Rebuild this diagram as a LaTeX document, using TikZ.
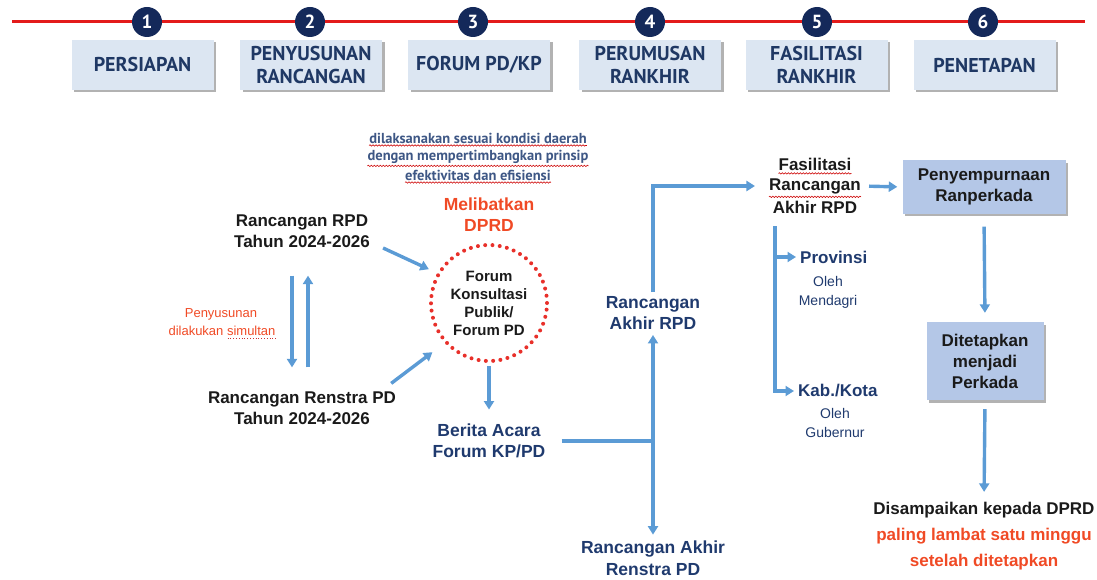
\documentclass[tikz,border=0pt]{standalone}
\usepackage{fontspec}
\setmainfont{Liberation Sans}
\newfontfamily\dinfont{PT Sans}
\usetikzlibrary{arrows.meta,shadows,calc,decorations.pathmorphing}

\definecolor{timeline}{HTML}{E31B1B}
\definecolor{stepnavy}{HTML}{14295A}
\definecolor{hdrfill}{HTML}{DCE6F2}
\definecolor{hdrtext}{HTML}{1F3864}
\definecolor{boxfill}{HTML}{B4C7E7}
\definecolor{flowblue}{HTML}{5B9BD5}
\definecolor{ink}{HTML}{1A1A1A}
\definecolor{navytext}{HTML}{1F3A6E}
\definecolor{accentred}{HTML}{F04A25}
\definecolor{dotred}{HTML}{E8302A}
\definecolor{notetext}{HTML}{3E5785}

\begin{document}
\begin{tikzpicture}[x=1pt,y=-1pt,
  hdrbox/.style={fill=hdrfill, minimum width=142pt, minimum height=50pt,
    inner sep=0pt, align=center, text=hdrtext,
    font=\dinfont\bfseries\fontsize{20}{23}\selectfont,
    drop shadow={shadow xshift=2.5pt, shadow yshift=-2.5pt, fill=black, opacity=0.3}},
  numdot/.style={circle, fill=stepnavy, text=white, minimum size=30pt,
    inner sep=0pt, font=\dinfont\bfseries\fontsize{19}{19}\selectfont},
  flowbox/.style={fill=boxfill, inner sep=0pt, align=center, text=ink,
    font=\bfseries\fontsize{17}{21}\selectfont,
    drop shadow={shadow xshift=2.5pt, shadow yshift=-2.5pt, fill=black, opacity=0.3}},
  plain/.style={inner sep=0pt, align=center, text=ink,
    font=\bfseries\fontsize{17}{21}\selectfont},
  navy/.style={inner sep=0pt, align=center, text=navytext,
    font=\bfseries\fontsize{17.5}{21.5}\selectfont},
  smallnavy/.style={inner sep=0pt, align=center, text=navytext,
    font=\fontsize{14}{19}\selectfont},
  redtext/.style={inner sep=0pt, align=center, text=accentred,
    font=\bfseries\fontsize{17.5}{21}\selectfont},
  note/.style={inner sep=0pt, text=notetext,
    font=\dinfont\bfseries\fontsize{14.5}{18}\selectfont},
  flowline/.style={draw=flowblue, line width=3.4pt},
  arr/.style={flowline, -{Triangle[length=8.5pt,width=10pt]}},
  squiggle/.style={draw=red!80!black, line width=0.6pt,
    decorate, decoration={snake, segment length=3pt, amplitude=0.7pt}}
]
\useasboundingbox (0,0) rectangle (1097,580);

% ---- timeline of stages ----
\coordinate (tl0) at (12,22);
\coordinate (tl1) at (1085,22);
\draw[timeline, line width=3pt] (tl0) -- (tl1);

\node[hdrbox] (h1) at (142.5,65) {PERSIAPAN};
\node[hdrbox] (h2) at (311,65)   {PENYUSUNAN\\RANCANGAN};
\node[hdrbox] (h3) at (479,65)   {FORUM PD/KP};
\node[hdrbox] (h4) at (650,65)   {PERUMUSAN\\RANKHIR};
\node[hdrbox] (h5) at (816.5,65) {FASILITASI\\RANKHIR};
\node[hdrbox] (h6) at (984.5,65) {PENETAPAN};

\node[numdot] (n1) at (147,22) {1};
\node[numdot] (n2) at (310,22) {2};
\node[numdot] (n3) at (473,22) {3};
\node[numdot] (n4) at (650,22) {4};
\node[numdot] (n5) at (817,22) {5};
\node[numdot] (n6) at (983,22) {6};

% ---- note above the forum ----
\node[note] (dil1) at (478,138) {dilaksanakan sesuai kondisi daerah};
\node[note] (dil2) at (478,157) {dengan mempertimbangkan prinsip};
\node[note] (dil3) at (478,175) {efektivitas dan efisiensi};
\foreach \l in {dil1,dil2,dil3}
  \draw[squiggle] ($(\l.south west)+(0,2)$) -- ($(\l.south east)+(0,2)$);

% ---- drafting stage ----
\node[plain] (rpd) at (302,231) {Rancangan RPD\\Tahun 2024-2026};
\node[plain] (renstra) at (302,408) {Rancangan Renstra PD\\Tahun 2024-2026};

\node[inner sep=0pt, text=accentred, font=\fontsize{13}{17}\selectfont] (pen1) at (221,314) {Penyusunan};
\node[inner sep=0pt, text=accentred, font=\fontsize{13}{17}\selectfont] (pen2) at (222,331) {dilakukan simultan};
\draw[red!60!gray, line width=0.8pt, dotted] ($(pen2.south east)+(-48,2)$) -- ($(pen2.south east)+(0,2)$);

\draw[arr] ($(rpd.south)+(-10,28)$) -- ($(renstra.north)+(-10,-24)$);
\draw[arr] ($(renstra.north)+(6,-24)$) -- ($(rpd.south)+(6,28)$);

% ---- public consultation forum ----
\node[redtext] (dprd) at (489,215) {Melibatkan\\DPRD};
\node[circle, minimum size=116pt, inner sep=0pt, draw=dotred, line width=4pt,
      dash pattern=on 0pt off 7.3pt, line cap=round, align=center, text=ink,
      font=\bfseries\fontsize{15}{18}\selectfont] (forum) at (489,303)
      {Forum\\Konsultasi\\Publik/\\Forum PD};

\draw[arr, shorten >=9pt] ($(rpd.east)+(13,17)$) -- (forum.150);
\draw[arr, shorten >=15pt] ($(renstra.north east)+(-5,-8)$) -- (forum.222);

\node[navy] (berita) at (489,441) {Berita Acara\\Forum KP/PD};
\draw[arr, shorten <=3pt, shorten >=14pt] (forum.south) -- (berita.north);

% ---- final draft ----
\coordinate (j) at (653,441);
\node[navy] (akhirrpd) at (653,313) {Rancangan\\Akhir RPD};
\node[navy] (akhirrenstra) at (653,558) {Rancangan Akhir\\Renstra PD};

\draw[flowline] ($(berita.east)+(16,0)$) -- (j);
\draw[arr, shorten >=5pt] (j) -- (akhirrpd.south);
\draw[arr, shorten >=6pt] (j) -- (akhirrenstra.north);

% ---- facilitation ----
\node[plain] (fas1) at (815,164) {Fasilitasi};
\node[plain] (fas2) at (815,186) {Rancangan};
\node[plain] (fas3) at (815,207) {Akhir RPD};
\draw[squiggle] ($(fas1.south west)+(0,3)$) -- ($(fas1.south east)+(0,3)$);
\draw[squiggle] ($(fas2.south west)+(0,3)$) -- ($(fas2.south east)+(0,3)$);

\draw[arr, shorten >=14pt] ($(akhirrpd.north)+(0,-4)$) |- (fas2.west);

\node[navy, anchor=west, font=\bfseries\fontsize{17}{20}\selectfont] (prov) at (800,257) {Provinsi};
\node[smallnavy] (mendagri) at (828,292) {Oleh\\Mendagri};
\node[navy, anchor=west, font=\bfseries\fontsize{17}{20}\selectfont] (kab) at (798,391) {Kab./Kota};
\node[smallnavy] (gubernur) at (835,423) {Oleh\\Gubernur};

\coordinate (vtop) at (775,226);
\draw[arr, shorten >=4pt] (vtop) |- (kab.west);
\draw[arr, shorten >=4pt] (vtop |- prov.west) -- (prov.west);

% ---- enactment ----
\node[flowbox, minimum width=163pt, minimum height=53pt] (penyemp) at (984,187) {Penyempurnaan\\Ranperkada};
\node[flowbox, minimum width=117pt, minimum height=78pt] (ditetap) at (985,361) {Ditetapkan\\menjadi\\Perkada};
\node[plain, font=\bfseries\fontsize{17}{26}\selectfont] (dprdsend) at (984,536)
  {Disampaikan kepada DPRD\\\textcolor{accentred}{paling lambat satu minggu}\\\textcolor{accentred}{setelah ditetapkan}};

\draw[arr, shorten <=8pt, shorten >=5pt] (fas2.east) -- (penyemp.west);
\draw[arr, shorten <=13pt, shorten >=9pt] (penyemp.south) -- (ditetap.north);
\draw[arr, shorten <=9pt, shorten >=10pt] (ditetap.south) -- (dprdsend.north);

\end{tikzpicture}
\end{document}
